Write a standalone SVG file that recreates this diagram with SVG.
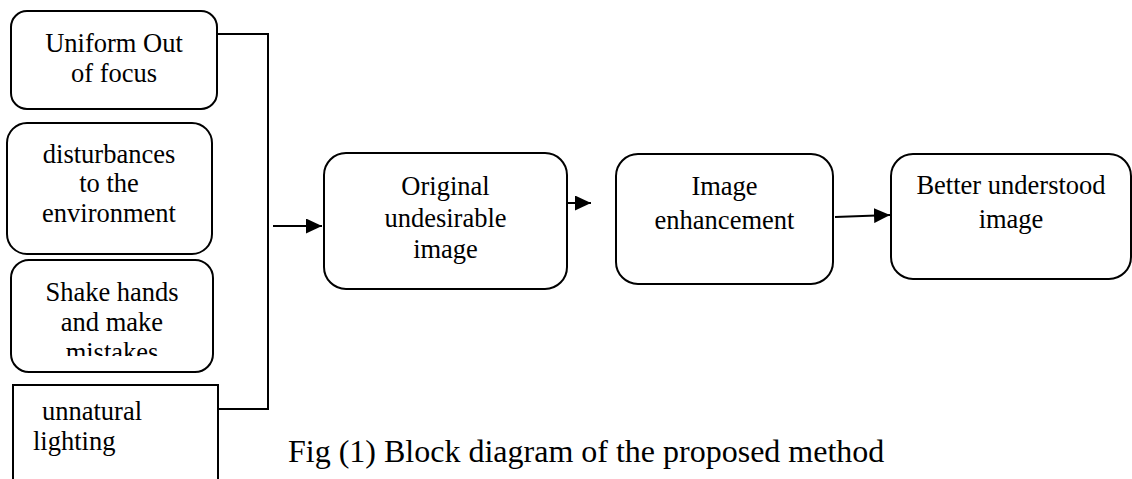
<svg xmlns="http://www.w3.org/2000/svg" width="1132" height="479" viewBox="0 0 1132 479">
  <style>
    .box { fill: #ffffff; stroke: #000000; stroke-width: 2; }
    text { font-family: 'Liberation Serif', serif; fill: #000000; }
    .lbl { font-size: 26.5px; }
    .mid { text-anchor: middle; }
    .wire { fill: none; stroke: #000000; stroke-width: 2; }
    .cap { font-size: 32px; }
  </style>
  <defs>
    <marker id="head" viewBox="0 0 10 10" refX="10" refY="5" markerWidth="8" markerHeight="7.5" preserveAspectRatio="none" markerUnits="strokeWidth" orient="auto">
      <path d="M0,0 L10,5 L0,10 Z" fill="#000000"/>
    </marker>
    <clipPath id="cut3">
      <rect x="11" y="260" width="202" height="96"/>
    </clipPath>
  </defs>

  <rect width="1132" height="479" fill="#ffffff"/>

  <!-- causes of degradation -->
  <g id="uniform-out-of-focus">
    <rect class="box" x="11" y="11" width="206" height="98" rx="16"/>
    <text class="lbl mid" x="114" y="52">Uniform Out</text>
    <text class="lbl mid" x="114" y="82">of focus</text>
  </g>

  <g id="disturbances">
    <rect class="box" x="7" y="123" width="205" height="131" rx="20"/>
    <text class="lbl mid" x="109" y="163">disturbances</text>
    <text class="lbl mid" x="109" y="192">to the</text>
    <text class="lbl mid" x="109" y="222">environment</text>
  </g>

  <g id="shake-hands">
    <rect class="box" x="11" y="260" width="202" height="112" rx="18"/>
    <g clip-path="url(#cut3)">
      <text class="lbl mid" x="112" y="301">Shake hands</text>
      <text class="lbl mid" x="112" y="331">and make</text>
      <text class="lbl mid" x="112" y="361">mistakes</text>
    </g>
  </g>

  <g id="unnatural-lighting">
    <rect class="box" x="13" y="385" width="205" height="110"/>
    <text class="lbl" x="42" y="420">unnatural</text>
    <text class="lbl" x="33" y="450">lighting</text>
  </g>

  <!-- processing chain -->
  <g id="original-image">
    <rect class="box" x="324" y="153" width="243" height="136" rx="22"/>
    <text class="lbl mid" x="445.5" y="195">Original</text>
    <text class="lbl mid" x="445.5" y="227">undesirable</text>
    <text class="lbl mid" x="445.5" y="258">image</text>
  </g>

  <g id="image-enhancement">
    <rect class="box" x="616" y="154" width="217" height="130" rx="22"/>
    <text class="lbl mid" x="724.5" y="195">Image</text>
    <text class="lbl mid" x="724.5" y="229">enhancement</text>
  </g>

  <g id="better-understood">
    <rect class="box" x="891" y="154" width="240" height="125" rx="22"/>
    <text class="lbl mid" x="1011" y="194">Better understood</text>
    <text class="lbl mid" x="1011" y="228">image</text>
  </g>

  <g id="connectors">
    <!-- bracket collecting the four causes -->
    <polyline class="wire" points="217,34 268,34 268,409 218,409"/>
    <line class="wire" x1="273" y1="226" x2="322" y2="226" marker-end="url(#head)"/>
    <line class="wire" x1="567" y1="203" x2="591" y2="203" marker-end="url(#head)"/>
    <line class="wire" x1="835" y1="217" x2="890" y2="215" marker-end="url(#head)"/>
  </g>

  <text id="caption" class="cap" x="288" y="462">Fig (1) Block diagram of the proposed method</text>
</svg>
